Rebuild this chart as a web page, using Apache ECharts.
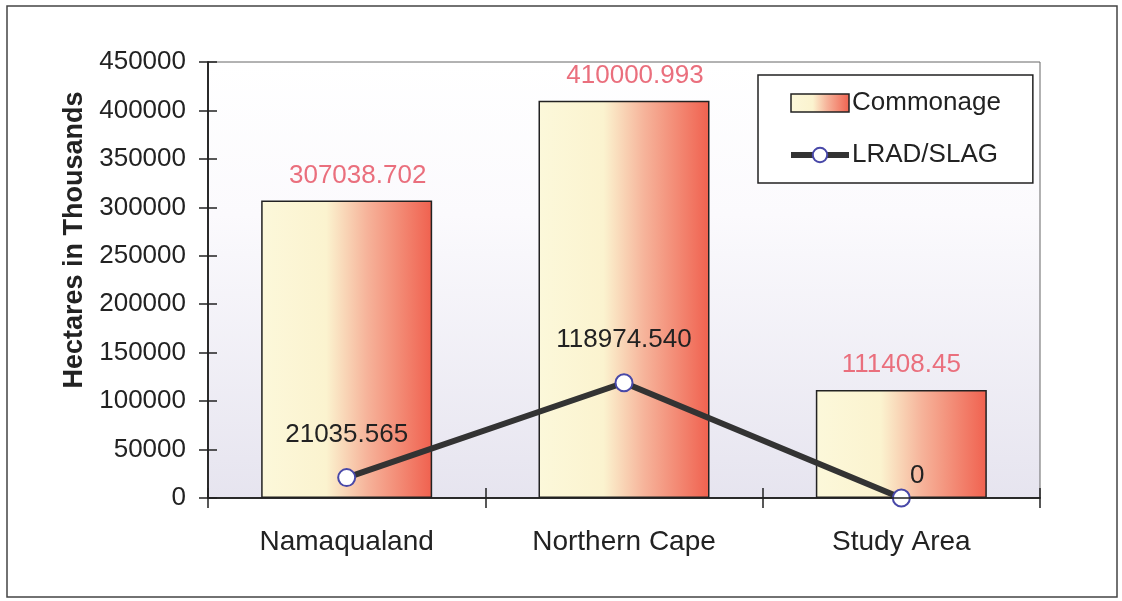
<!DOCTYPE html>
<html>
<head>
<meta charset="utf-8">
<script src="https://cdn.jsdelivr.net/npm/echarts@6/dist/echarts.min.js"></script>
<style>
html,body{margin:0;padding:0;background:#fff;}
#chart{width:1122px;height:601px;}
</style>
</head>
<body>
<div id="chart"></div>
<script>
var categories = ['Namaqualand', 'Northern Cape', 'Study Area'];
var commonage = [307038.702, 410000.993, 111408.45];
var commonageLabels = ['307038.702', '410000.993', '111408.45'];
var lradSlag = [21035.565, 118974.540, 0];
var lradLabels = ['21035.565', '118974.540', '0'];
var yMin = 0, yMax = 450000, yStep = 50000;

var FONT = 'Liberation Sans, Arial, sans-serif';
var chart = echarts.init(document.getElementById('chart'));

var barGradient = new echarts.graphic.LinearGradient(0, 0, 1, 0, [
  {offset: 0, color: '#fcf8da'},
  {offset: 0.38, color: '#fbf3cf'},
  {offset: 0.62, color: '#f6b39a'},
  {offset: 1, color: '#f0614f'}
]);

var gridPos = {left: 208, right: 82, top: 62, bottom: 103};
var tickStyle = {color: '#222', width: 1.5};
var barLabelOffsets = [[11, 0], [11, 0], [0, 0]];

var option = {
  animation: false,
  backgroundColor: '#fff',
  graphic: [{
    type: 'rect',
    shape: {x: 7, y: 6, width: 1110, height: 591},
    style: {fill: 'none', stroke: '#444', lineWidth: 1.5},
    silent: true,
    z: -10
  }],
  grid: [
    Object.assign({
      show: true,
      borderColor: '#666',
      borderWidth: 1,
      backgroundColor: new echarts.graphic.LinearGradient(0, 0, 0, 1, [
        {offset: 0, color: '#ffffff'},
        {offset: 0.35, color: '#fbfafd'},
        {offset: 1, color: '#e6e4ef'}
      ])
    }, gridPos),
    Object.assign({show: false}, gridPos)
  ],
  legend: {
    orient: 'vertical',
    left: 758, top: 75,
    padding: [15, 32, 15, 30],
    borderColor: '#222',
    borderWidth: 1.5,
    backgroundColor: '#fff',
    itemWidth: 58,
    itemHeight: 18,
    itemGap: 26,
    textStyle: {fontFamily: FONT, fontSize: 26, color: '#222', padding: [0,0,0,-2]},
    data: [
      {name: 'Commonage', icon: 'rect', itemStyle: {borderWidth: 1.5, borderColor: '#222'}},
      {name: 'LRAD/SLAG', lineStyle: {width: 6, color: '#333'},
       itemStyle: {color: '#fff', borderColor: '#4848a8', borderWidth: 2}}
    ]
  },
  xAxis: [{
    type: 'category',
    gridIndex: 0,
    data: categories,
    boundaryGap: true,
    axisLine: {lineStyle: {color: '#222', width: 1.5}},
    axisTick: {show: true, length: 10, inside: false, lineStyle: tickStyle},
    axisLabel: {fontFamily: FONT, fontSize: 28, color: '#222', margin: 30}
  }, {
    type: 'category',
    gridIndex: 1,
    data: categories,
    boundaryGap: true,
    z: 20,
    axisLine: {show: true, lineStyle: {color: '#222', width: 1.5}},
    axisTick: {show: true, length: 10, inside: true, lineStyle: tickStyle},
    axisLabel: {show: false}
  }],
  yAxis: [{
    type: 'value',
    gridIndex: 0,
    min: yMin, max: yMax, interval: yStep,
    name: 'Hectares in Thousands',
    nameLocation: 'middle',
    nameGap: 120,
    nameTextStyle: {fontFamily: FONT, fontSize: 27, fontWeight: 'bold', color: '#222',
      padding: [0, 0, 0, 80]},
    axisLine: {show: true, lineStyle: {color: '#222', width: 1.5}},
    axisTick: {show: true, length: 9, lineStyle: tickStyle},
    axisLabel: {fontFamily: FONT, fontSize: 26, color: '#222', margin: 22,
      formatter: function (v) { return String(v); }},
    splitLine: {show: false}
  }, {
    type: 'value',
    gridIndex: 1,
    min: yMin, max: yMax, interval: yStep,
    z: 20,
    axisLine: {show: true, lineStyle: {color: '#222', width: 1.5}},
    axisTick: {show: true, inside: true, length: 9, lineStyle: tickStyle},
    axisLabel: {show: false},
    splitLine: {show: false}
  }],
  series: [{
    name: 'Commonage',
    type: 'bar',
    xAxisIndex: 0, yAxisIndex: 0,
    data: commonage.map(function (v, i) {
      return {value: v, label: {offset: barLabelOffsets[i]}};
    }),
    barWidth: 171,
    itemStyle: {color: barGradient, borderColor: '#222', borderWidth: 1.5},
    label: {
      show: true, position: 'top', distance: 12,
      fontFamily: FONT, fontSize: 26, color: '#ea6f7d',
      formatter: function (p) { return commonageLabels[p.dataIndex]; }
    },
    z: 2
  }, {
    name: 'LRAD/SLAG',
    type: 'line',
    xAxisIndex: 0, yAxisIndex: 0,
    data: lradSlag.map(function (v, i) {
      var d = {value: v};
      if (i === 2) d.label = {offset: [16, 20]};
      return d;
    }),
    symbol: 'circle',
    symbolSize: 17,
    lineStyle: {color: '#333', width: 6},
    itemStyle: {color: '#ffffff', borderColor: '#4848a8', borderWidth: 2},
    label: {
      show: true, position: 'top', distance: 20,
      fontFamily: FONT, fontSize: 26, color: '#222',
      formatter: function (p) { return lradLabels[p.dataIndex]; }
    },
    z: 5
  }]
};
chart.setOption(option);
</script>
</body>
</html>
